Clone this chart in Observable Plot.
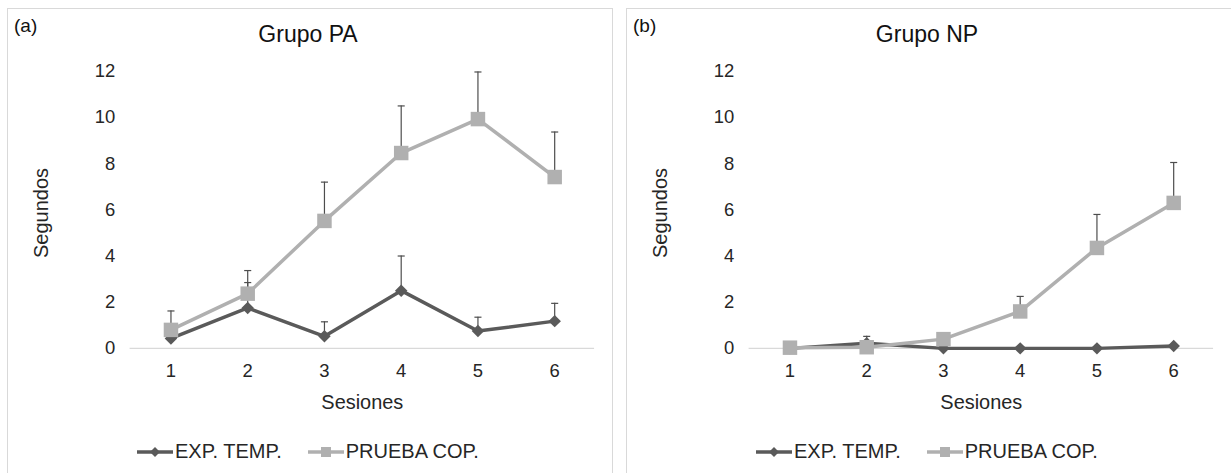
<!DOCTYPE html>
<html>
<head>
<meta charset="utf-8">
<script src="https://cdn.jsdelivr.net/npm/d3@7"></script>
<script src="https://cdn.jsdelivr.net/npm/@observablehq/plot@0.6"></script>
<style>
  html, body { margin: 0; padding: 0; background: #fff; width: 1231px; height: 473px; overflow: hidden; }
  body { font-family: "Liberation Sans", Arial, sans-serif; color: #262626; position: relative; }
  .panel { position: absolute; top: 8px; width: 606px; height: 480px; border: 1px solid #d9d9d9; box-sizing: border-box; background: #fff; }
  .letter { position: absolute; left: 6px; top: 6px; font-size: 19px; color: #111; }
  .title { position: absolute; left: 0; top: 12px; width: 600px; text-align: center; font-size: 23px; color: #111; }
  .chart { position: absolute; left: 0; top: 0; }
  .ylab { position: absolute; left: 33px; top: 204px; transform: translate(-50%, -50%) rotate(-90deg); font-size: 20px; white-space: nowrap; }
  .legend { position: absolute; top: 431px; left: 129px; display: flex; align-items: center; font-size: 20px; white-space: nowrap; }
  .legend .item { display: flex; align-items: center; }
  .legend svg { margin-right: 2px; }
</style>
</head>
<body>
<script>
// ---- data ----
const sessions = [1, 2, 3, 4, 5, 6];
const seriesNames = ["EXP. TEMP.", "PRUEBA COP."];
const yTicks = [0, 2, 4, 6, 8, 10, 12];

// Grupo PA
const paExp    = [0.43, 1.75, 0.52, 2.5, 0.75, 1.18];
const paExpErr = [0.37, 1.1, 0.63, 1.5, 0.6, 0.77];
const paCop    = [0.8, 2.37, 5.52, 8.46, 9.93, 7.42];
const paCopErr = [0.82, 1.0, 1.68, 2.04, 2.04, 1.95];

// Grupo NP
const npExp    = [0, 0.22, 0, 0, 0, 0.1];
const npExpErr = [0, 0.3, 0, 0, 0, 0];
const npCop    = [0.03, 0.05, 0.4, 1.6, 4.35, 6.3];
const npCopErr = [0, 0, 0, 0.65, 1.45, 1.75];

const colExp = "#5a5a5a";
const colCop = "#b0b0b0";
const colErr = "#4d4d4d";

const capSymbol = {
  draw(ctx, size) {
    const w = Math.sqrt(size) / 2;
    ctx.moveTo(-w, 0);
    ctx.lineTo(w, 0);
  }
};

function rows(vals, errs) {
  return sessions.map((s, i) => ({s, v: vals[i], e: errs[i], top: vals[i] + errs[i]}));
}

function seriesMarks(data, color, symbol, r, rotate) {
  const withErr = data.filter(d => d.e > 0);
  return [
    Plot.line(data, {x: "s", y: "v", stroke: color, strokeWidth: 3.5}),
    Plot.ruleX(withErr, {x: "s", y1: "v", y2: "top", stroke: colErr, strokeWidth: 1.2}),
    Plot.dot(withErr, {x: "s", y: "top", symbol: capSymbol, r: 4, stroke: colErr, strokeWidth: 1.2, fill: "none"}),
    Plot.dot(data, {x: "s", y: "v", symbol, r, rotate, fill: color, stroke: "none"})
  ];
}

function makePanel(left, letter, title, exp, expErr, cop, copErr) {
  const panel = document.createElement("div");
  panel.className = "panel";
  panel.style.left = left + "px";

  const chart = Plot.plot({
    width: 606,
    height: 420,
    marginTop: 62,
    marginBottom: 80,
    marginLeft: 122,
    marginRight: 18,
    style: {fontFamily: "Liberation Sans, Arial, sans-serif", fontSize: "18.5px", color: "#262626", background: "transparent"},
    x: {type: "point", domain: sessions, padding: 0.5, label: null},
    y: {domain: [0, 12], label: null},
    marks: [
      Plot.ruleY([0], {stroke: "#d9d9d9", strokeWidth: 1.3}),
      Plot.axisX({ticks: sessions, tickSize: 0, tickPadding: 16, fontSize: 18.5, label: null}),
      Plot.axisY({ticks: yTicks, tickSize: 0, tickPadding: 15, fontSize: 18.5, label: null}),
      Plot.text(["Sesiones"], {frameAnchor: "bottom", dy: 61, fontSize: 20, fill: "#262626"}),
      ...seriesMarks(rows(exp, expErr), colExp, "square", 5, 45),
      ...seriesMarks(rows(cop, copErr), colCop, "square", 8.2, 0)
    ]
  });
  chart.classList.add("chart");
  panel.appendChild(chart);

  const l = document.createElement("div"); l.className = "letter"; l.textContent = letter; panel.appendChild(l);
  const t = document.createElement("div"); t.className = "title"; t.textContent = title; panel.appendChild(t);
  const y = document.createElement("div"); y.className = "ylab"; y.textContent = "Segundos"; panel.appendChild(y);

  const lg = document.createElement("div"); lg.className = "legend";
  lg.innerHTML =
    `<div class="item"><svg width="36" height="16"><line x1="0" y1="8" x2="36" y2="8" stroke="${colExp}" stroke-width="3.5"/><rect x="14.5" y="4.5" width="7" height="7" fill="${colExp}" transform="rotate(45 18 8)"/></svg><span>${seriesNames[0]}</span></div>` +
    `<div class="item" style="margin-left:26px"><svg width="36" height="16"><line x1="0" y1="8" x2="36" y2="8" stroke="${colCop}" stroke-width="3.5"/><rect x="13" y="3" width="10" height="10" fill="${colCop}"/></svg><span>${seriesNames[1]}</span></div>`;
  panel.appendChild(lg);

  document.body.appendChild(panel);
}

makePanel(7, "(a)", "Grupo PA", paExp, paExpErr, paCop, paCopErr);
makePanel(626, "(b)", "Grupo NP", npExp, npExpErr, npCop, npCopErr);
</script>
</body>
</html>
